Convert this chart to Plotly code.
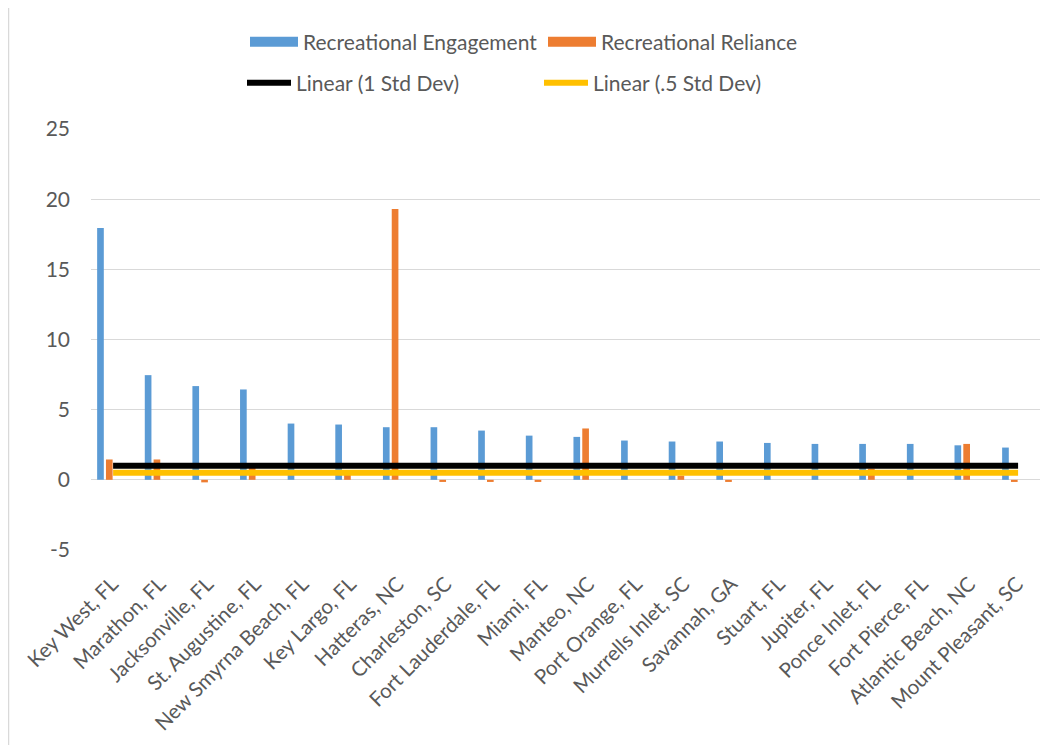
import numpy as np
import plotly.graph_objects as go

categories = ["Key West, FL", "Marathon, FL", "Jacksonville, FL", "St. Augustine, FL",
              "New Smyrna Beach, FL", "Key Largo, FL", "Hatteras, NC", "Charleston, SC",
              "Fort Lauderdale, FL", "Miami, FL", "Manteo, NC", "Port Orange, FL",
              "Murrells Inlet, SC", "Savannah, GA", "Stuart, FL", "Jupiter, FL",
              "Ponce Inlet, FL", "Fort Pierce, FL", "Atlantic Beach, NC", "Mount Pleasant, SC"]

engagement = [17.95, 7.46, 6.68, 6.44, 4.01, 3.94, 3.75, 3.75, 3.51, 3.15,
              3.06, 2.80, 2.73, 2.73, 2.63, 2.56, 2.56, 2.56, 2.46, 2.30]
reliance = [1.45, 1.45, -0.18, 0.90, 0.0, 0.45, 19.30, -0.15, -0.15, -0.15,
            3.66, 0.0, 0.30, -0.15, 0.0, 0.0, 0.80, 0.0, 2.56, -0.15]

std_1 = [1.0] * len(categories)
std_half = [0.5] * len(categories)

y_ticks = [-5, 0, 5, 10, 15, 20, 25]
y_tick_text = ["-5", "0", "5", "10", "15", "20", "25"]

BLUE = "#5B9BD5"
ORANGE = "#ED7D31"
YELLOW = "#FFC000"
TEXT = "#595959"
FONT = "Lato, Open Sans, sans-serif"

idx = np.arange(len(categories))

fig = go.Figure()
fig.add_trace(go.Bar(x=idx, y=engagement, name="Recreational Engagement",
                     marker=dict(color=BLUE, line=dict(width=0)),
                     width=0.14, offset=-0.165, showlegend=False,
                     legendgroup="eng"))
fig.add_trace(go.Bar(x=idx, y=reliance, name="Recreational Reliance",
                     marker=dict(color=ORANGE, line=dict(width=0)),
                     width=0.14, offset=0.02, showlegend=False,
                     legendgroup="rel"))
line_x = idx + 0.17
fig.add_trace(go.Scatter(x=line_x, y=std_1, mode="lines", name="Linear (1 Std Dev)",
                         line=dict(color="black", width=6), legend="legend2"))
fig.add_trace(go.Scatter(x=line_x, y=std_half, mode="lines", name="Linear (.5 Std Dev)",
                         line=dict(color=YELLOW, width=6), legend="legend2"))
# legend proxies for the bar series
fig.add_trace(go.Scatter(x=[None], y=[None], mode="lines", name="Recreational Engagement",
                         line=dict(color=BLUE, width=10), legendgroup="eng", legend="legend"))
fig.add_trace(go.Scatter(x=[None], y=[None], mode="lines", name="Recreational Reliance",
                         line=dict(color=ORANGE, width=10), legendgroup="rel", legend="legend"))

W, H = 1061, 745
PAGE = 8  # default body margin of the html page
L, T = 91 - PAGE, 129 - PAGE
R = W - (1040 - PAGE)
B = H - (550 - PAGE)
pw = W - L - R
ph = H - T - B

fig.update_layout(
    width=W, height=H,
    margin=dict(l=L, r=R, t=T, b=B, autoexpand=False),
    paper_bgcolor="white", plot_bgcolor="white",
    font=dict(family=FONT, size=20, color=TEXT),
    barmode="overlay",
    legend=dict(orientation="h", xref="container", yref="container",
                x=237 / W, y=1 - (42 - PAGE) / H,
                xanchor="left", yanchor="middle", itemwidth=48,
                entrywidth=235, entrywidthmode="pixels",
                bgcolor="rgba(0,0,0,0)", font=dict(size=21, color=TEXT)),
    legend2=dict(orientation="h", xref="container", yref="container",
                 x=234 / W, y=1 - (83 - PAGE) / H,
                 xanchor="left", yanchor="middle", itemwidth=44,
                 entrywidth=238, entrywidthmode="pixels",
                 bgcolor="rgba(0,0,0,0)", font=dict(size=21, color=TEXT)),
    xaxis=dict(range=[-0.294, 19.63], tickmode="array", tickvals=idx + 0.15,
               ticktext=categories,
               tickangle=-45, showgrid=False, zeroline=False, showline=False,
               ticks="", ticklabelstandoff=17, automargin=False,
               tickfont=dict(size=20.5, color=TEXT)),
    yaxis=dict(range=[-5, 25], tickmode="array", tickvals=y_ticks, ticktext=y_tick_text,
               showgrid=True, gridcolor="#D9D9D9", gridwidth=1,
               zeroline=False, showline=False, ticks="", automargin=False,
               ticklabelstandoff=20, tickfont=dict(size=21, color=TEXT)),
    shapes=[dict(type="line", xref="paper", yref="paper",
                 x0=(0.5 - L) / pw, x1=(0.5 - L) / pw,
                 y0=(-(H - T - ph) - 0) / ph, y1=(H - B) / ph,
                 line=dict(color="#D9D9D9", width=1.5), layer="below")],
)

fig.write_html("out.html")
